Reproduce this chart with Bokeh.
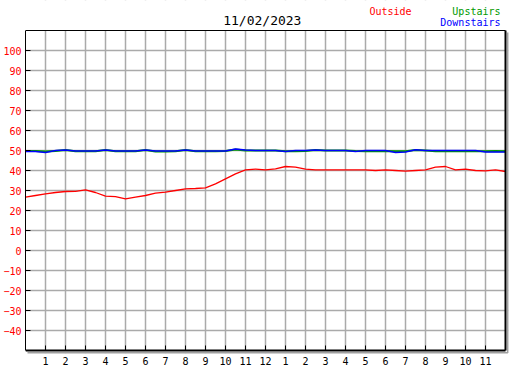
from bokeh.plotting import figure
from bokeh.models import FixedTicker, Label, Range1d
from bokeh.embed import file_html
from bokeh.resources import INLINE

title_text = "11/02/2023"
series_names = ["Outside", "Upstairs", "Downstairs"]

hours = [0.0, 0.5, 1.0, 1.5, 2.0, 2.5, 3.0, 3.5, 4.0, 4.5, 5.0, 5.5, 6.0, 6.5,
         7.0, 7.5, 8.0, 8.5, 9.0, 9.5, 10.0, 10.5, 11.0, 11.5, 12.0, 12.5,
         13.0, 13.5, 14.0, 14.5, 15.0, 15.5, 16.0, 16.5, 17.0, 17.5, 18.0,
         18.5, 19.0, 19.5, 20.0, 20.5, 21.0, 21.5, 22.0, 22.5, 23.0, 23.5, 24.0]

outside = [26.7, 27.5, 28.3, 29.0, 29.5, 29.6, 30.3, 29.0, 27.2, 26.9, 25.8, 26.7,
           27.5, 28.7, 29.2, 30.0, 30.8, 31.0, 31.3, 33.3, 35.8, 38.3, 40.3, 40.7,
           40.3, 40.8, 42.0, 41.7, 40.7, 40.3, 40.3, 40.3, 40.3, 40.3, 40.3, 40.0,
           40.3, 40.0, 39.7, 40.0, 40.3, 41.7, 42.0, 40.3, 40.7, 40.0, 39.8, 40.3, 39.5]

upstairs = [49.7, 49.7, 49.5, 49.8, 50.3, 49.6, 49.6, 49.6, 50.3, 49.6, 49.6, 49.6,
            50.3, 49.5, 49.5, 49.6, 50.3, 49.6, 49.6, 49.6, 49.7, 50.5, 50.0, 50.0,
            50.0, 50.0, 49.6, 49.6, 49.8, 50.3, 50.0, 50.0, 50.0, 49.7, 49.6, 49.6,
            49.8, 49.6, 49.6, 50.2, 50.0, 49.6, 49.6, 49.6, 49.6, 49.6, 49.6, 49.7, 49.6]

downstairs = [49.5, 49.5, 49.0, 50.0, 50.3, 49.8, 49.8, 49.8, 50.3, 49.8, 49.8, 49.8,
              50.3, 49.8, 49.8, 49.8, 50.3, 49.8, 49.7, 49.7, 49.8, 50.8, 50.3, 50.0,
              50.0, 50.0, 49.5, 50.0, 50.0, 50.3, 50.0, 50.0, 50.0, 49.5, 50.0, 50.0,
              50.0, 49.0, 49.2, 50.4, 50.0, 50.0, 50.0, 50.0, 50.0, 50.0, 49.2, 49.2, 49.2]

x_ticks = [1, 2, 3, 4, 5, 6, 7, 8, 9, 10, 11, 12, 13, 14, 15, 16, 17, 18, 19, 20, 21, 22, 23]
x_tick_labels = ["1", "2", "3", "4", "5", "6", "7", "8", "9", "10", "11", "12",
                 "1", "2", "3", "4", "5", "6", "7", "8", "9", "10", "11"]
y_ticks = [-40, -30, -20, -10, 0, 10, 20, 30, 40, 50, 60, 70, 80, 90, 100]

# plot box (data units) and extra room used for title/legend and frame shadow
X0, X1 = 0, 24
Y0, Y1 = -50, 110
X_SHADOW = 24.15
Y_SHADOW = -51.5
Y_TOP = 125

FONT = "DejaVu Sans Mono"
RED = "#ff0000"
GREEN = "#009900"
BLUE = "#0000ff"
GRID = "#aaaaaa"
SHADOW = "#a0a0a0"

p = figure(width=527, height=370, output_backend="svg", toolbar_location=None,
           x_range=Range1d(X0, X_SHADOW), y_range=Range1d(Y_SHADOW, Y_TOP),
           min_border_left=25, min_border_right=19, min_border_top=0,
           min_border_bottom=17)
p.background_fill_color = "white"
p.border_fill_color = "white"
p.outline_line_color = None

# x axis: labels only (ticks and line drawn at the plot box edge below)
p.xaxis.ticker = FixedTicker(ticks=x_ticks)
p.xaxis.major_label_overrides = dict(zip(x_ticks, x_tick_labels))
p.xaxis.axis_line_color = None
p.xaxis.major_tick_line_color = None
p.xaxis.major_tick_in = 0
p.xaxis.major_tick_out = 0
p.xaxis.minor_tick_line_color = None
p.xaxis.major_label_text_font = FONT
p.xaxis.major_label_text_font_size = "10px"
p.xaxis.major_label_text_color = "black"
p.xaxis.major_label_standoff = 3

# y axis
p.yaxis.ticker = FixedTicker(ticks=y_ticks)
p.yaxis.bounds = (Y0, Y1)
p.yaxis.axis_line_color = "black"
p.yaxis.axis_line_width = 1
p.yaxis.major_tick_in = 5
p.yaxis.major_tick_out = 0
p.yaxis.major_tick_line_color = "black"
p.yaxis.major_tick_line_width = 1
p.yaxis.minor_tick_line_color = None
p.yaxis.major_label_text_font = FONT
p.yaxis.major_label_text_font_size = "10px"
p.yaxis.major_label_text_color = RED
p.yaxis.major_label_standoff = 4

p.xgrid.grid_line_color = GRID
p.xgrid.grid_line_width = 1.5
p.ygrid.grid_line_color = GRID
p.ygrid.grid_line_width = 1.5

# white masks outside the plot box (title area, shadow strips)
p.quad(left=[X0, X1, X0], right=[X_SHADOW, X_SHADOW, X_SHADOW],
       bottom=[Y1, Y_SHADOW, Y_SHADOW], top=[Y_TOP, Y1, Y0],
       fill_color="white", line_color=None)

# series
p.line(hours, outside, line_color=RED, line_width=1.3)
p.line(hours, upstairs, line_color=GREEN, line_width=2)
p.line(hours, downstairs, line_color=BLUE, line_width=1.5)

# plot box border with shadow
p.line([X1 + 0.12, X1 + 0.12], [Y0 - 1.2, Y1 - 1], line_color=SHADOW, line_width=2)
p.line([X0 + 0.1, X1 + 0.12], [Y0 - 1.2, Y0 - 1.2], line_color=SHADOW, line_width=2)
p.line([X0, X1], [Y1, Y1], line_color="black", line_width=1)
p.line([X1, X1], [Y0, Y1], line_color="black", line_width=2)
p.line([X0, X1], [Y0, Y0], line_color="black", line_width=2)
p.segment(x0=x_ticks, x1=x_ticks, y0=[Y0] * len(x_ticks), y1=[Y0 + 2.5] * len(x_ticks),
          line_color="black", line_width=1)

# title and legend text
p.add_layout(Label(x=11.84, y=115, text=title_text, text_align="center",
                   text_baseline="middle", text_font=FONT, text_font_size="13px",
                   text_color="black"))
p.add_layout(Label(x=17.2, y=119.5, text=series_names[0], text_align="left",
                   text_baseline="middle", text_font=FONT, text_font_size="10px",
                   text_color=RED))
p.add_layout(Label(x=23.75, y=119.5, text=series_names[1], text_align="right",
                   text_baseline="middle", text_font=FONT, text_font_size="10px",
                   text_color=GREEN))
p.add_layout(Label(x=23.75, y=114, text=series_names[2], text_align="right",
                   text_baseline="middle", text_font=FONT, text_font_size="10px",
                   text_color=BLUE))

open("out.html", "w").write(file_html(p, INLINE))
